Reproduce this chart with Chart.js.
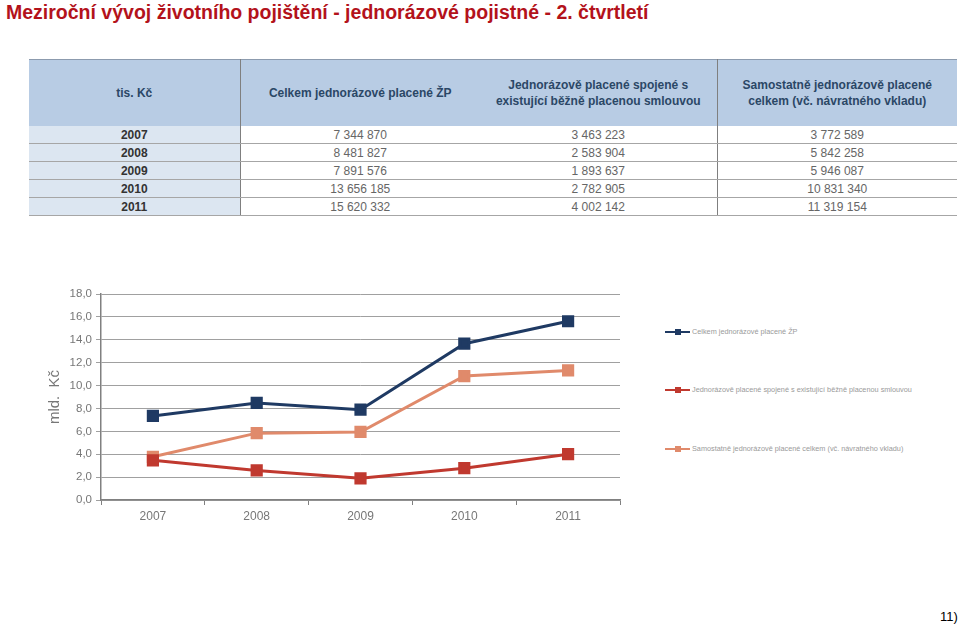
<!DOCTYPE html>
<html>
<head>
<meta charset="utf-8">
<script src="https://cdn.jsdelivr.net/npm/chart.js@4/dist/chart.umd.min.js"></script>
<style>
  body { margin: 0; width: 960px; height: 625px; background: #fff; position: relative; overflow: hidden;
         font-family: "Liberation Sans", Arial, sans-serif; }
  #title { position: absolute; left: 6px; top: 1px; font-size: 19.5px; font-weight: bold; color: #B3121B; }
  #tbl { position: absolute; left: 29px; top: 59px; border-collapse: collapse; table-layout: fixed; font-size: 12px; }
  #tbl th { background: #B8CCE4; color: #2B4766; font-weight: bold; height: 66px; padding: 0 4px;
            border-top: 1px solid #8C9BAE; text-align: center; line-height: 16px; }
  #tbl td { height: 17px; padding: 0; text-align: center; color: #666; border-bottom: 1px solid #A6A6A6; }
  #tbl td.yr { background: #DCE6F1; color: #333; font-weight: bold; }
  #tbl .sep { border-right: 1px solid #7F7F7F; }
  #chartBox { position: absolute; left: 0; top: 280px; width: 640px; height: 250px; }
  #legend { position: absolute; left: 665px; top: 0; font-size: 7.3px; color: #9A9A9A; }
  .li { position: absolute; left: 0; white-space: nowrap; height: 10px; line-height: 10px; }
  .li .ln { position: absolute; left: 0; top: 4px; width: 25px; height: 2px; }
  .li .mk { position: absolute; left: 9.5px; top: 2px; width: 6px; height: 6px; }
  .li span { position: absolute; left: 27px; top: 0; }
  #page { position: absolute; left: 940px; top: 609px; font-size: 13px; color: #000; }
</style>
</head>
<body>
<div id="title">Meziroční vývoj životního pojištění - jednorázové pojistné - 2. čtvrtletí</div>
<table id="tbl"></table>
<div id="chartBox"><canvas id="chart"></canvas></div>
<div id="legend"></div>
<div id="page">11)</div>
<script>
// values in tis. Kč, as printed in the table
const years = ['2007', '2008', '2009', '2010', '2011'];
const headers = ['tis. Kč', 'Celkem jednorázové placené ŽP',
  'Jednorázově placené spojené s existující běžně placenou smlouvou',
  'Samostatně jednorázově placené celkem (vč. návratného vkladu)'];
const totalSingle = [7344870, 8481827, 7891576, 13656185, 15620332];
const linkedSingle = [3463223, 2583904, 1893637, 2782905, 4002142];
const standaloneSingle = [3772589, 5842258, 5946087, 10831340, 11319154];

const legendNames = ['Celkem jednorázové placené ŽP',
  'Jednorázově placené spojené s existující běžně placenou smlouvou',
  'Samostatně jednorázově placené celkem (vč. návratného vkladu)'];
const seriesColors = ['#1F3A63', '#C0392F', '#E08A6B'];
const yTicksMax = 18;

const fmt = n => String(n).replace(/\B(?=(\d{3})+(?!\d))/g, ' ');

// build the table
function renderTable() {
  const tbl = document.getElementById('tbl');
  const widths = [211, 240, 237, 240];
  let html = '<colgroup>' + widths.map(w => `<col style="width:${w}px">`).join('') + '</colgroup>';
  html += '<tr>' + headers.map((h, i) => `<th class="${i === 0 || i === 2 ? 'sep' : ''}">${h}</th>`).join('') + '</tr>';
  years.forEach((y, i) => {
    html += `<tr><td class="yr sep">${y}</td><td>${fmt(totalSingle[i])}</td>` +
      `<td class="sep">${fmt(linkedSingle[i])}</td><td>${fmt(standaloneSingle[i])}</td></tr>`;
  });
  tbl.innerHTML = html;
}

function renderLegend() {
  const tops = [327, 385, 444];
  const box = document.getElementById('legend');
  box.innerHTML = legendNames.map((n, i) =>
    `<div class="li" style="top:${tops[i]}px"><div class="ln" style="background:${seriesColors[i]}"></div>` +
    `<div class="mk" style="background:${seriesColors[i]}"></div><span>${n}</span></div>`).join('');
}

function renderChart() {
  const toMld = arr => arr.map(v => v / 1e6);
  const series = [totalSingle, linkedSingle, standaloneSingle];
  new Chart(document.getElementById('chart'), {
    type: 'line',
    data: {
      labels: years,
      datasets: series.map((s, i) => ({
        label: legendNames[i],
        data: toMld(s),
        borderColor: seriesColors[i],
        backgroundColor: seriesColors[i],
        borderWidth: 3,
        pointStyle: 'rect',
        pointRadius: 6.5,
        pointHoverRadius: 6.5,
        tension: 0,
      })),
    },
    options: {
      responsive: true,
      maintainAspectRatio: false,
      animation: false,
      layout: { padding: { left: 44, right: 20, top: 14, bottom: 0 } },
      plugins: { legend: { display: false }, tooltip: { enabled: false } },
      scales: {
        x: {
          offset: true,
          grid: { offset: true, drawOnChartArea: false, tickLength: 5, color: '#808080' },
          border: { color: '#808080', width: 1.5 },
          ticks: { color: '#777', font: { family: 'Liberation Sans', size: 12 }, padding: 4 },
          afterFit: s => { s.height = 30; },
        },
        y: {
          min: 0, max: yTicksMax,
          ticks: { stepSize: 2, color: '#777', font: { family: 'Liberation Sans', size: 11.5 }, padding: 4,
                   callback: v => v.toFixed(1).replace('.', ',') },
          grid: { color: '#A0A0A0', tickLength: 5 },
          border: { color: '#808080', width: 1.5 },
          title: { display: true, text: 'mld.  Kč', color: '#777', font: { family: 'Liberation Sans', size: 15 }, padding: { top: 2, bottom: 2 } },
          afterFit: s => { s.width = 57; },
        },
      },
    },
  });
}

document.addEventListener('DOMContentLoaded', () => {
  renderTable();
  renderLegend();
  renderChart();
});
</script>
</body>
</html>
